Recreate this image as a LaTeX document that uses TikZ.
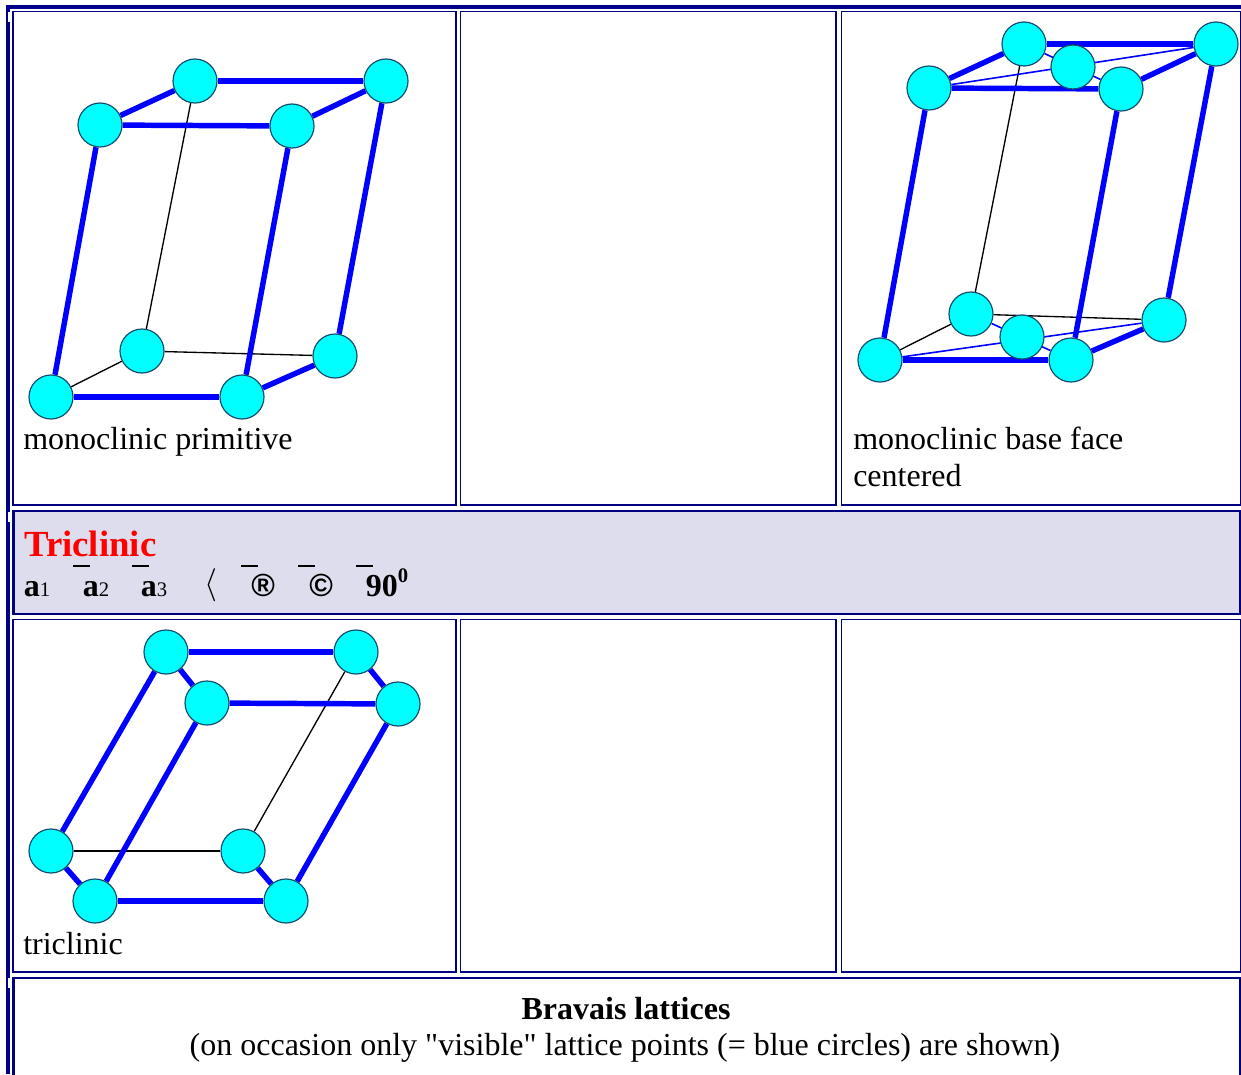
\documentclass[tikz,border=0pt]{standalone}
\usepackage{fontspec}
\setmainfont{Liberation Serif}
\newfontfamily\symfont{Liberation Sans}
\usetikzlibrary{backgrounds}
\definecolor{framenavy}{HTML}{000080}
\definecolor{outerblue}{HTML}{00008B}
\definecolor{rowgray}{HTML}{DDDDEE}
\definecolor{atomedge}{HTML}{14506E}
\definecolor{atomfill}{HTML}{00FFFF}
\definecolor{bondblue}{HTML}{0000FF}
\newcommand{\axislabel}[1]{{\bfseries a}{\mdseries\fontsize{15.5}{18}\selectfont #1}}
\begin{document}
\begin{tikzpicture}[
    x=0.75pt, y=-0.75pt,
    cell/.style={draw=framenavy, line width=1.3pt},
    headcell/.style={draw=framenavy, line width=2.2pt, fill=rowgray},
    atom/.style={circle, draw=atomedge, line width=0.9pt, fill=atomfill, minimum size=33pt, inner sep=0pt},
    bond/.style={bondblue, line width=4.1pt},
    thinbond/.style={bondblue, line width=1.2pt},
    hidden/.style={black, line width=1pt},
    caption/.style={anchor=base west, inner sep=0pt, font=\fontsize{24}{29}\selectfont},
    headsym/.style={anchor=base west, inner sep=0pt, font=\fontsize{24}{29}\selectfont\bfseries},
    overbar/.style={black, line width=1.5pt}
]
    \useasboundingbox (0,0) rectangle (1241,1074);

    % Outer frame
    \fill[outerblue] (6,5) rectangle (1241,9);
    \fill[outerblue] (6,5) rectangle (10,1074);
    \fill[white] (8,12) rectangle (10,22);
    \fill[white] (8,512) rectangle (10,522);
    \fill[white] (8,978) rectangle (10,988);

    % Table cells
    \draw[cell] (13,11.5) rectangle (456,505);
    \draw[cell] (460.5,11.5) rectangle (836,505);
    \draw[cell] (841.5,11.5) rectangle (1240.5,505);
    \draw[headcell] (13.5,511) rectangle (1240.5,614);
    \draw[cell] (13,619.5) rectangle (456,972);
    \draw[cell] (460.5,619.5) rectangle (836,972);
    \draw[cell] (841.5,619.5) rectangle (1240.5,972);
    \draw[headcell, fill=white] (13.5,978) rectangle (1240.5,1090);

    % Monoclinic primitive
    \node[atom] (mptbl) at (195,81) {};
    \node[atom] (mptbr) at (386,81) {};
    \node[atom] (mptfl) at (100,125) {};
    \node[atom] (mptfr) at (292,126) {};
    \node[atom] (mpbbl) at (142,351) {};
    \node[atom] (mpbbr) at (335,356) {};
    \node[atom] (mpbfl) at (51,397) {};
    \node[atom] (mpbfr) at (242,397) {};
    \node[caption] (mpcaption) at (23,449) {monoclinic primitive};

    % Monoclinic base face centered
    \node[atom] (mbtbl) at (1024,44) {};
    \node[atom] (mbtbr) at (1216,44) {};
    \node[atom] (mbtc) at (1073,67) {};
    \node[atom] (mbtfl) at (929,88) {};
    \node[atom] (mbtfr) at (1121,89) {};
    \node[atom] (mbbbl) at (971,314) {};
    \node[atom] (mbbbr) at (1164,320) {};
    \node[atom] (mbbc) at (1022,337) {};
    \node[atom] (mbbfl) at (880,360) {};
    \node[atom] (mbbfr) at (1071,360) {};
    \node[caption] (mbcaption) at (853,449) {monoclinic base face};
    \node[caption] (mbcaptiontwo) at (853,486) {centered};

    % Triclinic header
    \node[anchor=base west, inner sep=0pt, text=red, font=\fontsize{27.6}{32}\selectfont\bfseries] (trtitle) at (24,556) {Triclinic};
    \node[headsym] (axisone) at (23.5,596) {\axislabel{1}};
    \node[headsym] (axistwo) at (82.5,596) {\axislabel{2}};
    \node[headsym] (axisthree) at (140.5,596) {\axislabel{3}};
    \node[caption] (notequal) at (204,593) {$\langle$};
    \node[caption, font=\fontsize{24}{29}\symfont\bfseries] (alpha) at (251,596) {®};
    \node[caption, font=\fontsize{24}{29}\symfont\bfseries] (beta) at (309,596) {©};
    \node[headsym] (gamma) at (365.5,596) {90\raisebox{0.42em}{\fontsize{15.5}{18}\selectfont 0}};
    \draw[overbar] (73,565.5) -- (90,565.5);
    \draw[overbar] (132,565.5) -- (149,565.5);
    \draw[overbar] (241,565.5) -- (258,565.5);
    \draw[overbar] (298,565.5) -- (315,565.5);
    \draw[overbar] (356,565.5) -- (373,565.5);

    % Triclinic
    \node[atom] (trtbl) at (166,652) {};
    \node[atom] (trtbr) at (356,652) {};
    \node[atom] (trtfl) at (207,703) {};
    \node[atom] (trtfr) at (398,704) {};
    \node[atom] (trbbl) at (51,851) {};
    \node[atom] (trbbr) at (243,851) {};
    \node[atom] (trbfl) at (95,901) {};
    \node[atom] (trbfr) at (286,901) {};
    \node[caption] (trcaption) at (23,954) {triclinic};

    % Footer
    \node[anchor=base, inner sep=0pt, font=\fontsize{24}{29}\selectfont\bfseries] (foottitle) at (626,1019) {Bravais lattices};
    \node[anchor=base, inner sep=0pt, font=\fontsize{24}{29}\selectfont] (footnote) at (625,1055) {(on occasion only \textquotedbl visible\textquotedbl{} lattice points (= blue circles) are shown)};

    % Bonds
    \begin{pgfonlayer}{background}
        \draw[hidden] (mptbl) -- (mpbbl);
        \draw[hidden] (mpbbl) -- (mpbfl);
        \draw[hidden] (mpbbl) -- (mpbbr);
        \draw[bond] (mptbl) -- (mptbr);
        \draw[bond] (mptfl) -- (mptfr);
        \draw[bond] (mptfl) -- (mptbl);
        \draw[bond] (mptfr) -- (mptbr);
        \draw[bond] (mptfl) -- (mpbfl);
        \draw[bond] (mptfr) -- (mpbfr);
        \draw[bond] (mptbr) -- (mpbbr);
        \draw[bond] (mpbfl) -- (mpbfr);
        \draw[bond] (mpbfr) -- (mpbbr);

        \draw[hidden] (mbtbl) -- (mbbbl);
        \draw[hidden] (mbbbl) -- (mbbfl);
        \draw[hidden] (mbbbl) -- (mbbbr);
        \draw[thinbond] (mbtfl) -- (mbtbr);
        \draw[thinbond] (mbtbl) -- (mbtfr);
        \draw[thinbond] (mbbfl) -- (mbbbr);
        \draw[thinbond] (mbbbl) -- (mbbfr);
        \draw[bond] (mbtbl) -- (mbtbr);
        \draw[bond] (mbtfl) -- (mbtfr);
        \draw[bond] (mbtfl) -- (mbtbl);
        \draw[bond] (mbtfr) -- (mbtbr);
        \draw[bond] (mbtfl) -- (mbbfl);
        \draw[bond] (mbtfr) -- (mbbfr);
        \draw[bond] (mbtbr) -- (mbbbr);
        \draw[bond] (mbbfl) -- (mbbfr);
        \draw[bond] (mbbfr) -- (mbbbr);

        \draw[hidden] (trtbr) -- (trbbr);
        \draw[hidden] (trbbl) -- (trbbr);
        \draw[bond] (trtbl) -- (trtbr);
        \draw[bond] (trtfl) -- (trtfr);
        \draw[bond] (trtbl) -- (trtfl);
        \draw[bond] (trtbr) -- (trtfr);
        \draw[bond] (trtbl) -- (trbbl);
        \draw[bond] (trtfl) -- (trbfl);
        \draw[bond] (trtfr) -- (trbfr);
        \draw[bond] (trbbl) -- (trbfl);
        \draw[bond] (trbbr) -- (trbfr);
        \draw[bond] (trbfl) -- (trbfr);
    \end{pgfonlayer}
\end{tikzpicture}
\end{document}
